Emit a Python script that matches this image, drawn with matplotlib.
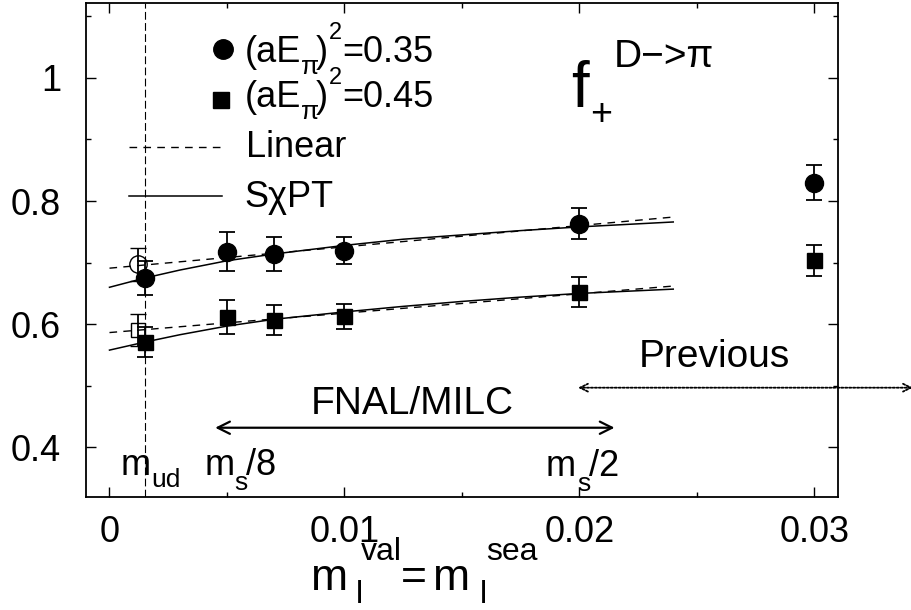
"""f+ (D -> pi) form factor vs light quark mass, with linear and SChPT fits."""

import matplotlib
matplotlib.use("Agg")
import matplotlib.pyplot as plt
from matplotlib.ticker import MultipleLocator, FuncFormatter

plt.rcParams["font.family"] = ["Liberation Sans", "DejaVu Sans"]

# lattice data points
m_light = [0.0015, 0.005, 0.007, 0.01, 0.02, 0.03]
f_035 = [0.675, 0.718, 0.714, 0.719, 0.763, 0.830]
err_035 = [0.028, 0.032, 0.027, 0.022, 0.025, 0.028]
f_045 = [0.571, 0.612, 0.607, 0.613, 0.652, 0.704]
err_045 = [0.024, 0.028, 0.025, 0.020, 0.024, 0.025]

# linear-fit extrapolation to m_ud (open symbols)
m_ext = [0.0012]
f_035_ext = [0.697]
err_035_ext = [0.0275]
f_045_ext = [0.591]
err_045_ext = [0.026]

# fit curves
lin_x = [0.0, 0.024]
lin_035 = [0.691, 0.774]
lin_045 = [0.5865, 0.662]
chpt_x = [0.0, 0.0015, 0.003, 0.005, 0.007, 0.01, 0.0125, 0.015, 0.0175, 0.02, 0.024]
chpt_035 = [0.660, 0.675, 0.688, 0.703, 0.714, 0.728, 0.738, 0.745, 0.752, 0.758, 0.766]
chpt_045 = [0.558, 0.571, 0.583, 0.597, 0.608, 0.620, 0.629, 0.637, 0.644, 0.650, 0.657]

M_UD = 0.0015
FNAL_RANGE = (0.0045, 0.0215)
PREV_RANGE = (0.01995, 0.0342)

W_PX, H_PX = 912, 610
TXT = 26
SUB = 19
DASH_KW = dict(color="black", lw=1.0, dashes=(5.5, 4.5))
SOLID_KW = dict(color="black", lw=1.1)
ERR_KW = dict(color="black", ls="none", elinewidth=1.3, capsize=5.5, capthick=1.3)

fig = plt.figure(figsize=(W_PX / 100, H_PX / 100), dpi=100)
ax = fig.add_axes([0.0943, 0.1857, 0.8242, 0.8089])


def _ftext(x_px, y_px, s, size, **kw):
    """Text placed at a figure pixel position (y from the top, baseline)."""
    return fig.text(x_px / W_PX, 1 - y_px / H_PX, s, fontsize=size,
                    va="baseline", **kw)


def _rich(pieces):
    """gnuplot-like enhanced text: each piece is (x_px, y_px, text, size)."""
    for x, y, s, size in pieces:
        _ftext(x, y, s, size)


ax.axvline(M_UD, color="black", lw=0.8, dashes=(7, 3))

ax.plot(lin_x, lin_035, **DASH_KW)
ax.plot(lin_x, lin_045, **DASH_KW)
ax.plot(chpt_x, chpt_035, **SOLID_KW)
ax.plot(chpt_x, chpt_045, **SOLID_KW)

ax.errorbar(m_light, f_035, yerr=err_035, marker="o", ms=13, mfc="black", zorder=5, **ERR_KW)
ax.errorbar(m_light, f_045, yerr=err_045, marker="s", ms=10.8, mfc="black", zorder=5, **ERR_KW)
ax.errorbar(m_ext, f_035_ext, yerr=err_035_ext, marker="o", ms=12.5, mfc="none",
            mec="black", mew=1.0, zorder=4, **ERR_KW)
ax.errorbar(m_ext, f_045_ext, yerr=err_045_ext, marker="s", ms=10.5, mfc="none",
            mec="black", mew=1.0, zorder=4, **ERR_KW)

# key, drawn by hand (gnuplot style)
tA = ax.transAxes
ax.plot([0.1819], [0.9068], "o", ms=14, color="black", transform=tA)
ax.plot([0.1796], [0.8039], "s", ms=11.5, color="black", transform=tA)
ax.plot([0.0572, 0.1809], [0.7078, 0.7078], transform=tA, **DASH_KW)
ax.plot([0.0572, 0.1809], [0.6091, 0.6091], transform=tA, **SOLID_KW)
for base, val in ((62.0, "=0.35"), (107.0, "=0.45")):
    _rich([
        (245.0, base, "(aE", TXT),
        (300.6, base + 11.7, "π", SUB),
        (315.6, base, ")", TXT),
        (329.0, base - 23.4, "2", 17),
        (342.3, base, val, TXT),
    ])
_ftext(246.0, 157.0, "Linear", TXT)
_ftext(244.0, 207.0, "SχPT", TXT)

# f_+^{D->pi} label
_rich([
    (571.0, 106.7, "f", 46),
    (590.0, 125.0, "+", 27),
    (614.0, 67.0, "D−>π", 28),
])

# range arrows
ax.annotate("", xy=(FNAL_RANGE[0], 0.432), xytext=(FNAL_RANGE[1], 0.432),
            arrowprops=dict(arrowstyle="<->", color="black", lw=1.6,
                            mutation_scale=22, shrinkA=0, shrinkB=0))
ax.text(0.0129, 0.455, "FNAL/MILC", fontsize=28, ha="center", va="baseline")
ax.annotate("", xy=(PREV_RANGE[0], 0.497), xytext=(PREV_RANGE[1], 0.497),
            annotation_clip=False,
            arrowprops=dict(arrowstyle="<->", color="black", lw=1.3, ls=(0, (1.2, 1.0)),
                            mutation_scale=14, shrinkA=0, shrinkB=0))
ax.text(0.02577, 0.5307, "Previous", fontsize=28, ha="center", va="baseline")

# mass markers
_rich([
    (121.0, 475.0, "m", TXT), (151.0, 487.0, "ud", SUB),
    (205.0, 475.0, "m", TXT), (234.0, 490.0, "s", SUB), (246.0, 475.0, "/8", TXT),
    (546.0, 476.0, "m", TXT), (577.0, 491.0, "s", SUB), (589.0, 476.0, "/2", TXT),
])

# axis label m_l^val = m_l^sea, left of centre as gnuplot places it
_rich([
    (311.0, 590.0, "m", 32), (356.0, 603.0, "l", 23), (361.0, 560.0, "val", 23),
    (401.0, 590.0, "=", 32),
    (433.0, 590.0, "m", 32), (480.0, 603.0, "l", 23), (486.0, 560.0, "sea", 23),
])

ax.set_xlim(-0.001, 0.031)
ax.set_ylim(0.32, 1.121)
ax.xaxis.set_major_locator(MultipleLocator(0.01))
ax.xaxis.set_minor_locator(MultipleLocator(0.005))
ax.yaxis.set_major_locator(MultipleLocator(0.2))
ax.yaxis.set_minor_locator(MultipleLocator(0.1))
fmt = FuncFormatter(lambda v, _: f"{v:g}" if abs(v) > 1e-12 else "0")
ax.xaxis.set_major_formatter(fmt)
ax.yaxis.set_major_formatter(fmt)
ax.tick_params(which="both", direction="in", top=True, right=True, labelsize=26)
ax.tick_params(which="major", length=7, width=1.0)
ax.tick_params(which="minor", length=3.5, width=1.0)
ax.tick_params(axis="x", pad=13)
ax.tick_params(axis="y", pad=18)
for sp in ax.spines.values():
    sp.set_linewidth(1.3)

fig.savefig("out.png", dpi=100)
